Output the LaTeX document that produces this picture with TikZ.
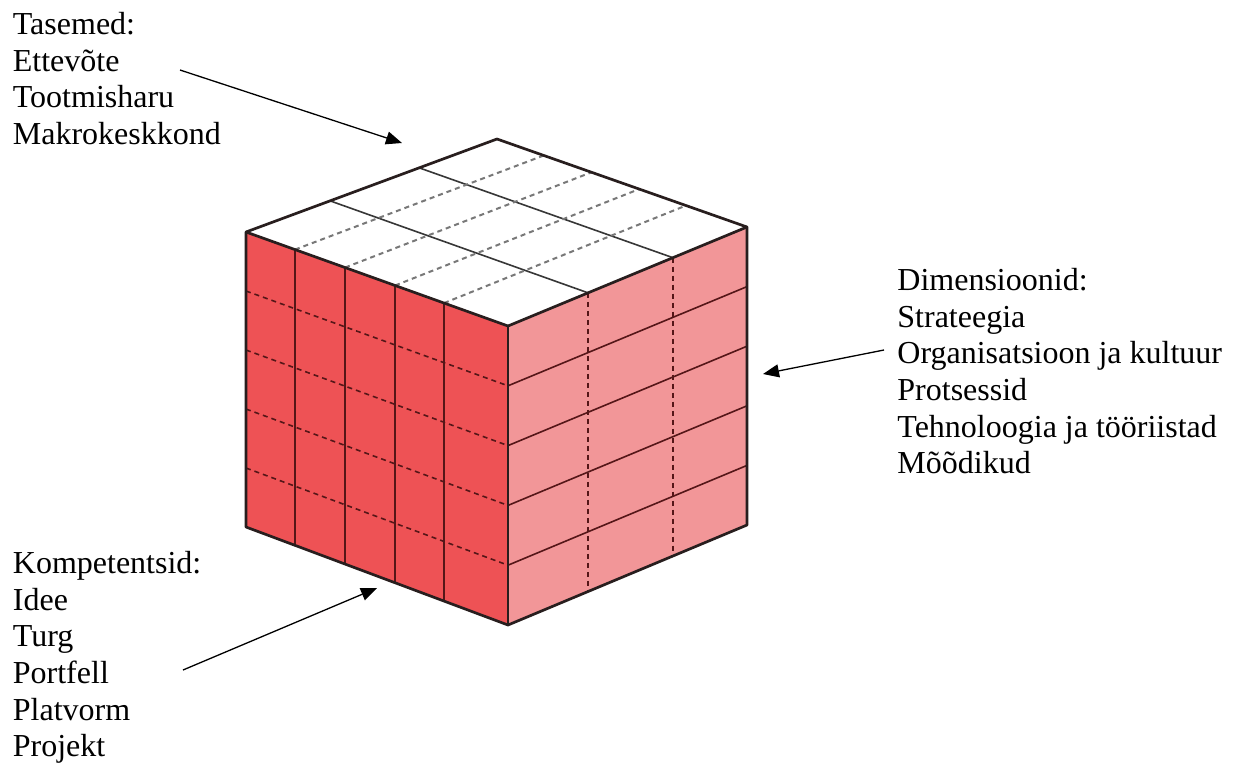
\documentclass[tikz,border=0pt]{standalone}
\usepackage{fontspec}
\setmainfont{Liberation Serif}
\usetikzlibrary{calc,arrows.meta}
\definecolor{faceleft}{RGB}{238,82,85}
\definecolor{faceright}{RGB}{242,150,152}
\definecolor{edgecol}{RGB}{40,30,30}
\definecolor{gridred}{RGB}{85,22,24}
\definecolor{topdash}{RGB}{120,120,120}
\definecolor{topline}{RGB}{55,55,55}
\begin{document}
\begin{tikzpicture}[x=0.5pt,y=-0.5pt,
  label/.style={font=\fontsize{16}{18.3}\selectfont, align=left, inner sep=0pt, anchor=north west},
  pointer/.style={line width=0.65pt, -{Triangle[length=8pt,width=6.5pt]}},
  cubeedge/.style={line width=1.35pt, draw=edgecol, line join=round},
  gridsolid/.style={line width=0.8pt, draw=gridred},
  griddash/.style={line width=0.8pt, draw=gridred, dash pattern=on 2.5pt off 2pt},
  topsolid/.style={line width=0.8pt, draw=topline},
  topdashed/.style={line width=1pt, draw=topdash, dash pattern=on 2.5pt off 2pt}]
\useasboundingbox (0,0) rectangle (1236,762);

% cube corners
\coordinate (LT) at (246,232);
\coordinate (FT) at (508,326);
\coordinate (RT) at (747,227);
\coordinate (BK) at (497,139);
\coordinate (LB) at (246,527);
\coordinate (FB) at (508,625);
\coordinate (RB) at (747,525);

% faces
\fill[faceleft] (LT) -- (FT) -- (FB) -- (LB) -- cycle;
\fill[faceright] (FT) -- (RT) -- (RB) -- (FB) -- cycle;
\fill[white] (LT) -- (BK) -- (RT) -- (FT) -- cycle;

% left face: solid columns, dashed rows
\foreach \f in {0.187,0.378,0.569,0.756}
  \draw[gridsolid] ($(LT)!\f!(FT)$) -- ($(LB)!\f!(FB)$);
\foreach \k in {1,2,3,4}
  \draw[griddash] ($(LT)!\k/5!(LB)$) -- ($(FT)!\k/5!(FB)$);

% right face: dashed columns, solid rows
\foreach \g in {0.335,0.69}
  \draw[griddash] ($(FT)!\g!(RT)$) -- ($(FB)!\g!(RB)$);
\foreach \k in {1,2,3,4}
  \draw[gridsolid] ($(FT)!\k/5!(FB)$) -- ($(RT)!\k/5!(RB)$);

% top face
\foreach \g in {0.335,0.69}
  \draw[topsolid] ($(LT)!\g!(BK)$) -- ($(FT)!\g!(RT)$);
\foreach \f in {0.187,0.378,0.569,0.756}
  \draw[topdashed] ($(LT)!\f!(FT)$) -- ($(BK)!\f!(RT)$);

% outline
\draw[cubeedge] (LT) -- (BK) -- (RT) -- (RB) -- (FB) -- (LB) -- cycle;
\draw[cubeedge] (LT) -- (FT) -- (RT);
\draw[cubeedge] (FT) -- (FB);

% labels
\node[label] (levels) at (12.5,12) {Tasemed:\\Ettevõte\\Tootmisharu\\Makrokeskkond};
\node[label] (dims) at (897,268) {Dimensioonid:\\Strateegia\\Organisatsioon ja kultuur\\Protsessid\\Tehnoloogia ja tööriistad\\Mõõdikud};
\node[label] (comps) at (12.5,551) {Kompetentsid:\\Idee\\Turg\\Portfell\\Platvorm\\Projekt};

% pointers
\coordinate (levels-tail) at (180,70);
\coordinate (levels-tip) at (402,143);
\coordinate (dims-tail) at (884,350);
\coordinate (dims-tip) at (763,374);
\coordinate (comps-tail) at (183,670);
\coordinate (comps-tip) at (377,588);
\draw[pointer] (levels-tail) -- (levels-tip);
\draw[pointer] (dims-tail) -- (dims-tip);
\draw[pointer] (comps-tail) -- (comps-tip);
\end{tikzpicture}
\end{document}
